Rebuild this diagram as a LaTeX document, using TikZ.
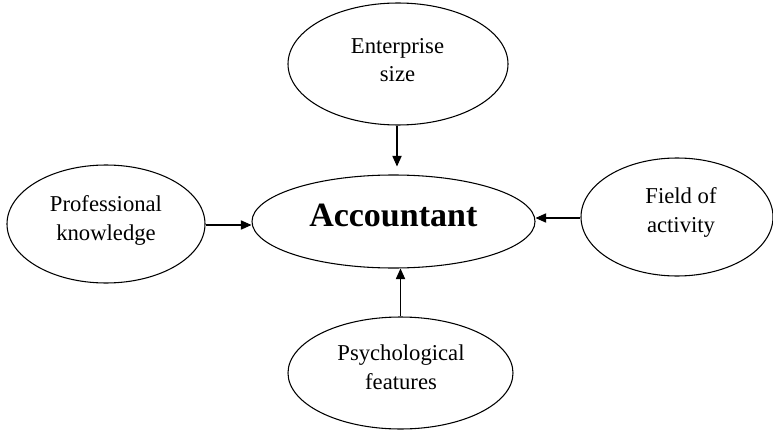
\documentclass[tikz,border=0pt]{standalone}
\usepackage{fontspec}
\setmainfont{Liberation Serif}
\usetikzlibrary{shapes.geometric,arrows.meta}
\begin{document}
\begin{tikzpicture}[x=0.75pt,y=-0.75pt,
  ell/.style={draw, ellipse, line width=0.8pt, inner sep=0pt},
  lab/.style={align=center, anchor=base, inner sep=0pt, font=\fontsize{17}{21.5}\selectfont},
  arr/.style={line width=0.8pt, -{Triangle[length=8pt,width=7pt]}}]
\useasboundingbox (0,0) rectangle (773,431);
% ellipses
\node[ell, minimum width=165pt, minimum height=91.5pt] (ent) at (398,64) {};
\node[ell, minimum width=212.25pt, minimum height=69.75pt] (acc) at (393.5,221.5) {};
\node[ell, minimum width=148.5pt, minimum height=88.5pt] (prof) at (106,224) {};
\node[ell, minimum width=144pt, minimum height=88.5pt] (field) at (677,217) {};
\node[ell, minimum width=168.75pt, minimum height=84pt] (psy) at (400.5,373) {};
% texts (base anchor = baseline of the last line)
\node[lab] (tent) at (397.5,82) {Enterprise\\size};
\node[lab, font=\fontsize{25.5}{30}\selectfont\bfseries] (tacc) at (393.3,226) {Accountant};
\node[lab] (tprof) at (106,240.5) {Professional\\knowledge};
\node[lab] (tfield) at (681,232) {Field of\\activity};
\node[lab] (tpsy) at (401,389.5) {Psychological\\features};
% arrows
\draw[arr, shorten >=6pt] ([xshift=-0.75pt]ent.south) -- ([xshift=-0.75pt]ent.south |- acc.north);
\draw[arr] ([yshift=-0.75pt]prof.east) -- ([yshift=-0.75pt]prof.east -| acc.west);
\draw[arr] ([yshift=-0.75pt]field.west) -- ([yshift=-0.75pt]field.west -| acc.east);
\draw[arr] (psy.north) -- (psy.north |- acc.south);
\end{tikzpicture}
\end{document}
